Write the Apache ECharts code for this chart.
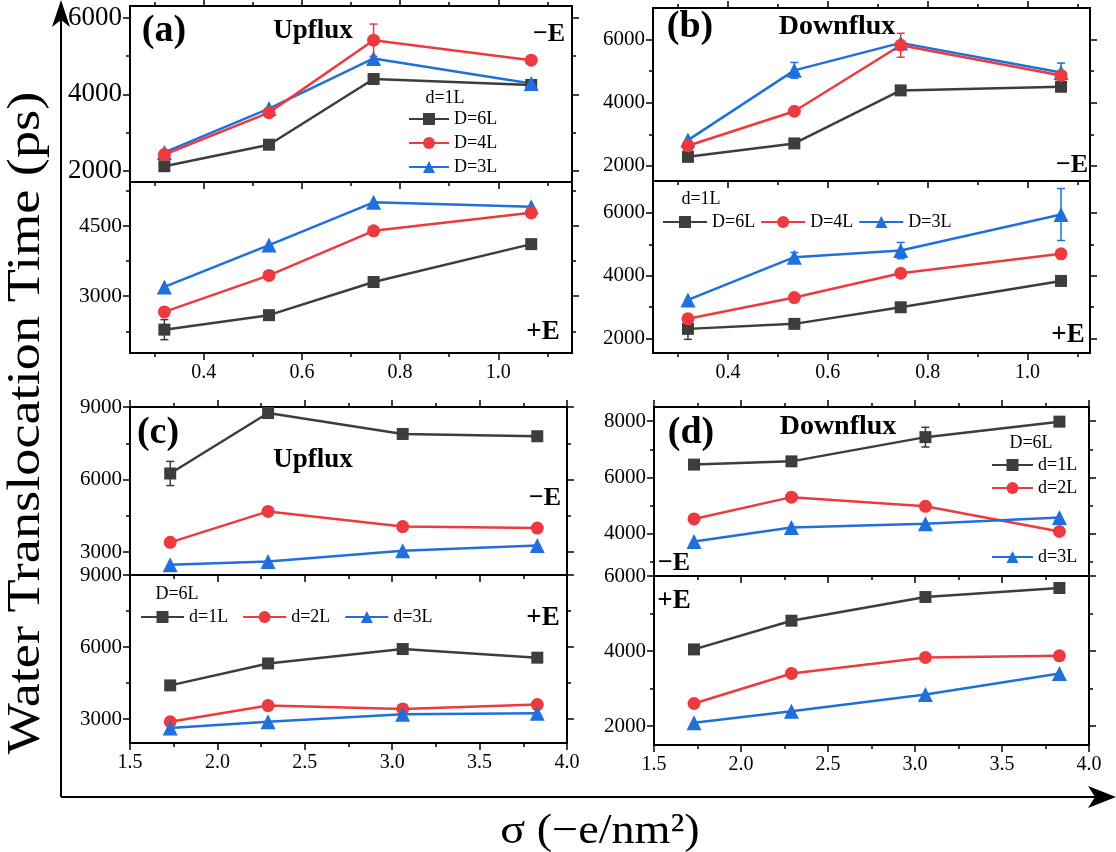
<!DOCTYPE html>
<html>
<head>
<meta charset="utf-8">
<script src="https://cdn.jsdelivr.net/npm/echarts@6/dist/echarts.min.js"></script>
<style>
  html, body { margin: 0; padding: 0; background: #ffffff; }
  #chart { width: 1116px; height: 852px; }
</style>
</head>
<body>
<div id="chart"></div>
<script>
// ---------------- data ----------------
// surface charge density sigma (-e/nm^2)
const sigmaAB = [0.32, 0.533, 0.746, 1.067];
const sigmaCD = [1.73, 2.29, 3.06, 3.83];

// tick values
const xMajorAB = [0.4, 0.6, 0.8, 1.0];
const xMinorAB = [0.3, 0.5, 0.7, 0.9, 1.1];
const xMajorCD = [1.5, 2.0, 2.5, 3.0, 3.5, 4.0];
const xMinorCD = [1.75, 2.25, 2.75, 3.25, 3.75];

// (a) Upflux, d=1L, -E field
const aMinusD6L = [2130, 2690, 4400, 4245];
const aMinusD4L = [2435, 3525, 5410, 4890];
const aMinusD3L = [2490, 3630, 4935, 4285];
const aMinusD4LErr = [0, 0, 420, 0];
// (a) Upflux, d=1L, +E field
const aPlusD6L = [2285, 2595, 3305, 4115];
const aPlusD4L = [2665, 3445, 4400, 4785];
const aPlusD3L = [3200, 4095, 5010, 4915];
const aPlusD6LErr = [215, 0, 0, 0];

// (b) Downflux, d=1L, -E field
const bMinusD6L = [2285, 2710, 4390, 4505];
const bMinusD4L = [2635, 3730, 5820, 4865];
const bMinusD3L = [2815, 5025, 5895, 4955];
const bMinusD4LErr = [0, 0, 380, 0];
const bMinusD3LErr = [0, 250, 0, 300];
// (b) Downflux, d=1L, +E field
const bPlusD6L = [2300, 2460, 2990, 3830];
const bPlusD4L = [2620, 3300, 4075, 4695];
const bPlusD3L = [3225, 4590, 4800, 5950];
const bPlusD6LErr = [335, 0, 0, 0];
const bPlusD3LErr = [0, 150, 260, 830];

// (c) Upflux, D=6L, -E field
const cMinusd1L = [6250, 8750, 7885, 7790];
const cMinusd2L = [3400, 4680, 4055, 3990];
const cMinusd3L = [2475, 2610, 3055, 3275];
const cMinusd1LErr = [500, 0, 0, 0];
// (c) Upflux, D=6L, +E field
const cPlusd1L = [4400, 5315, 5915, 5555];
const cPlusd2L = [2885, 3560, 3420, 3600];
const cPlusd3L = [2620, 2885, 3195, 3240];
const cPlusd1LErr = [0, 0, 150, 0];

// (d) Downflux, D=6L, -E field
const dMinusd1L = [6455, 6570, 7430, 7980];
const dMinusd2L = [4525, 5300, 4975, 4080];
const dMinusd3L = [3725, 4225, 4355, 4580];
const dMinusd1LErr = [0, 0, 350, 0];
// (d) Downflux, D=6L, +E field
const dPlusd1L = [4045, 4810, 5440, 5680];
const dPlusd2L = [2605, 3405, 3830, 3875];
const dPlusd3L = [2090, 2400, 2845, 3405];

// ---------------- styling ----------------
const FONT = '"Liberation Serif", "Times New Roman", serif';
const BLACK = '#3d3d3d', RED = '#ec3a3f', BLUE = '#1f6fdc';
const STYLE = {
  sq:  { color: BLACK, symbol: 'rect', symbolSize: 12 },
  ci:  { color: RED,   symbol: 'circle', symbolSize: 13 },
  tr:  { color: BLUE,  symbol: 'triangle', symbolSize: 15 }
};

// ---------------- panel layout ----------------
const panels = [
  { rect: [130, 6, 442, 176], x: [0.25, 1.15, xMajorAB, xMinorAB], xLabels: false, topTicks: true,
    y: [1720, 6300, [2000, 4000, 6000], [3000, 5000]], yFont: 27, xs: sigmaAB,
    lines: [['D=6L', 'sq', aMinusD6L], ['D=3L', 'tr', aMinusD3L], ['D=4L', 'ci', aMinusD4L, aMinusD4LErr]] },
  { rect: [130, 182, 442, 171], x: [0.25, 1.15, xMajorAB, xMinorAB], xLabels: true, topTicks: false,
    y: [1785, 5445, [3000, 4500], [2250, 3750, 5250]], yFont: 21.5, xs: sigmaAB,
    lines: [['D=6L', 'sq', aPlusD6L, aPlusD6LErr], ['D=3L', 'tr', aPlusD3L], ['D=4L', 'ci', aPlusD4L]] },
  { rect: [653, 8, 437, 173], x: [0.25, 1.125, xMajorAB, xMinorAB], xLabels: false, topTicks: true,
    y: [1520, 7000, [2000, 4000, 6000], [3000, 5000]], yFont: 21, xs: sigmaAB,
    lines: [['D=6L', 'sq', bMinusD6L], ['D=3L', 'tr', bMinusD3L, bMinusD3LErr], ['D=4L', 'ci', bMinusD4L, bMinusD4LErr]] },
  { rect: [653, 181, 437, 172], x: [0.25, 1.125, xMajorAB, xMinorAB], xLabels: true, topTicks: false,
    y: [1530, 7020, [2000, 4000, 6000], [3000, 5000]], yFont: 21, xs: sigmaAB,
    lines: [['D=6L', 'sq', bPlusD6L, bPlusD6LErr], ['D=4L', 'ci', bPlusD4L], ['D=3L', 'tr', bPlusD3L, bPlusD3LErr]] },
  { rect: [130, 407, 437, 168], x: [1.5, 4.0, xMajorCD, xMinorCD], xLabels: false, topTicks: true,
    y: [2050, 9000, [3000, 6000, 9000], [4500, 7500]], yFont: 21, xs: sigmaCD,
    lines: [['d=1L', 'sq', cMinusd1L, cMinusd1LErr], ['d=2L', 'ci', cMinusd2L], ['d=3L', 'tr', cMinusd3L]] },
  { rect: [130, 575, 437, 168], x: [1.5, 4.0, xMajorCD, xMinorCD], xLabels: true, topTicks: false,
    y: [2000, 9000, [3000, 6000, 9000], [4500, 7500]], yFont: 21, xs: sigmaCD,
    lines: [['d=1L', 'sq', cPlusd1L, cPlusd1LErr], ['d=2L', 'ci', cPlusd2L], ['d=3L', 'tr', cPlusd3L]] },
  { rect: [654, 407, 435, 169], x: [1.5, 4.0, xMajorCD, xMinorCD], xLabels: false, topTicks: true,
    y: [2500, 8500, [4000, 6000, 8000], [3000, 5000, 7000]], yFont: 21, xs: sigmaCD,
    lines: [['d=1L', 'sq', dMinusd1L, dMinusd1LErr], ['d=2L', 'ci', dMinusd2L], ['d=3L', 'tr', dMinusd3L]] },
  { rect: [654, 576, 435, 169], x: [1.5, 4.0, xMajorCD, xMinorCD], xLabels: true, topTicks: false,
    y: [1500, 6000, [2000, 4000, 6000], [3000, 5000]], yFont: 21, xs: sigmaCD,
    lines: [['d=1L', 'sq', dPlusd1L], ['d=2L', 'ci', dPlusd2L], ['d=3L', 'tr', dPlusd3L]] }
];

const grids = [], xAxes = [], yAxes = [], series = [];

function tickAxis(kind, gi, min, max, position, values, len, label) {
  const ax = {
    type: 'value', gridIndex: gi, min: min, max: max, position: position,
    splitLine: { show: false },
    axisLine: { show: false, onZero: false },
    axisTick: { show: true, inside: false, length: len, customValues: values,
                lineStyle: { color: '#000', width: 1.5 } },
    axisLabel: { show: false },
    z: 5
  };
  if (label) {
    ax.axisLabel = Object.assign({ show: true, customValues: values, color: '#000',
                                   fontFamily: FONT }, label);
  }
  (kind === 'x' ? xAxes : yAxes).push(ax);
  return (kind === 'x' ? xAxes : yAxes).length - 1;
}

panels.forEach((p, gi) => {
  const [l, t, w, h] = p.rect;
  grids.push({ left: l, top: t, width: w, height: h, show: true,
               borderColor: '#000', borderWidth: 2, backgroundColor: 'transparent' });
  const [xmin, xmax, xmaj, xmin2] = p.x;
  const [ymin, ymax, ymaj, ymin2] = p.y;
  const xi = tickAxis('x', gi, xmin, xmax, 'bottom', xmaj, 7,
    p.xLabels ? { fontSize: 20, margin: 10, formatter: v => Number(v).toFixed(1) } : null);
  tickAxis('x', gi, xmin, xmax, 'bottom', xmin2, 4, null);
  if (p.topTicks) {
    tickAxis('x', gi, xmin, xmax, 'top', xmaj, 7, null);
    tickAxis('x', gi, xmin, xmax, 'top', xmin2, 4, null);
  }
  const yi = tickAxis('y', gi, ymin, ymax, 'left', ymaj, 7,
    { fontSize: p.yFont, margin: 8, formatter: v => String(Math.round(v)) });
  tickAxis('y', gi, ymin, ymax, 'left', ymin2, 4, null);
  tickAxis('y', gi, ymin, ymax, 'right', ymaj, 7, null);
  tickAxis('y', gi, ymin, ymax, 'right', ymin2, 4, null);

  p.lines.forEach(([name, sk, vals, errs]) => {
    const st = STYLE[sk];
    if (errs) {
      const ebData = [];
      vals.forEach((v, i) => { if (errs[i] > 0) ebData.push([p.xs[i], v - errs[i], v + errs[i]]); });
      series.push({
        type: 'custom', name: name + ' error', xAxisIndex: xi, yAxisIndex: yi,
        encode: { x: 0, y: [1, 2] }, data: ebData, z: 2, silent: true,
        renderItem: (params, api) => {
          const x = api.value(0);
          const a = api.coord([x, api.value(1)]);
          const b = api.coord([x, api.value(2)]);
          const cw = 4;
          const ls = { stroke: st.color, lineWidth: 1.5 };
          return { type: 'group', children: [
            { type: 'line', shape: { x1: a[0], y1: a[1], x2: b[0], y2: b[1] }, style: ls },
            { type: 'line', shape: { x1: a[0] - cw, y1: a[1], x2: a[0] + cw, y2: a[1] }, style: ls },
            { type: 'line', shape: { x1: b[0] - cw, y1: b[1], x2: b[0] + cw, y2: b[1] }, style: ls }
          ] };
        }
      });
    }
    series.push({
      type: 'line', name: name, xAxisIndex: xi, yAxisIndex: yi,
      data: p.xs.map((x, i) => [x, vals[i]]),
      symbol: st.symbol, symbolSize: st.symbolSize, showSymbol: true,
      itemStyle: { color: st.color, opacity: 1 },
      lineStyle: { color: st.color, width: 2.5 },
      z: 3
    });
  });
});

// ---------------- legends ----------------
const legendText = { fontFamily: FONT, fontSize: 18, color: '#000' };
const legends = [
  { data: ['D=6L', 'D=4L', 'D=3L'], orient: 'vertical', left: 408, top: 110,
    itemWidth: 40, itemHeight: 15, itemGap: 6, textStyle: legendText },
  { data: ['D=6L', 'D=4L', 'D=3L'], orient: 'horizontal', left: 662, top: 213,
    itemWidth: 44, itemHeight: 15, itemGap: 5, textStyle: legendText },
  { data: ['d=1L', 'd=2L', 'd=3L'], orient: 'horizontal', left: 140, top: 608,
    itemWidth: 43, itemHeight: 15, itemGap: 14, textStyle: legendText },
  { data: ['d=1L', 'd=2L'], orient: 'vertical', left: 991, top: 456,
    itemWidth: 41, itemHeight: 15, itemGap: 5, textStyle: legendText },
  { data: ['d=3L'], orient: 'vertical', left: 991, top: 548,
    itemWidth: 41, itemHeight: 15, itemGap: 5, textStyle: legendText }
].map(l => Object.assign({ padding: 0, selectedMode: false, inactiveColor: '#000' }, l));

// ---------------- annotations ----------------
function label(text, x, y, size, bold, align) {
  return { type: 'text', x: x, y: y, z: 20, silent: true,
    style: { text: text, font: (bold ? 'bold ' : '') + size + 'px ' + FONT, fill: '#000',
             textAlign: align || 'center', textVerticalAlign: 'middle' } };
}
const graphics = [
  label('(a)', 164, 31, 38, true),
  label('Upflux', 313, 31, 27, true),
  label('\u2212E', 549, 34, 26, true),
  label('+E', 543, 332, 27, true),
  label('d=1L', 445, 98, 18, false),
  label('(b)', 690, 27, 38, true),
  label('Downflux', 837, 27, 28, true),
  label('\u2212E', 1072, 165, 26, true),
  label('+E', 1068, 335, 27, true),
  label('d=1L', 701, 199, 18, false),
  label('(c)', 158, 433, 38, true),
  label('Upflux', 313, 460, 27, true),
  label('\u2212E', 545, 498, 26, true),
  label('+E', 543, 618, 27, true),
  label('D=6L', 177, 594, 18, false),
  label('(d)', 691, 433, 38, true),
  label('Downflux', 838, 427, 28, true),
  label('\u2212E', 674, 563, 26, true),
  label('+E', 674, 601, 27, true),
  label('D=6L', 1031, 443, 18, false),
  // shared axis titles
  { type: 'text', x: 27, y: 423, rotation: Math.PI / 2, scaleX: 1.18, z: 20, silent: true,
    style: { text: 'Water Translocation Time (ps)', font: '46px ' + FONT, fill: '#000',
             textAlign: 'center', textVerticalAlign: 'middle' } },
  { type: 'text', x: 600, y: 832, scaleX: 1.1, z: 20, silent: true,
    style: { text: '\u03c3 (\u2212e/nm\u00b2)', font: '42px ' + FONT, fill: '#000',
             textAlign: 'center', textVerticalAlign: 'middle' } },
  // frame arrows
  { type: 'line', z: 20, silent: true, shape: { x1: 61, y1: 797, x2: 61, y2: 18 },
    style: { stroke: '#000', lineWidth: 2 } },
  { type: 'polygon', z: 20, silent: true,
    shape: { points: [[61, 0], [70, 27], [61, 20], [52, 27]] }, style: { fill: '#000' } },
  { type: 'line', z: 20, silent: true, shape: { x1: 61, y1: 797, x2: 1098, y2: 797 },
    style: { stroke: '#000', lineWidth: 2 } },
  { type: 'polygon', z: 20, silent: true,
    shape: { points: [[1116, 797], [1088, 786], [1095, 797], [1088, 808]] }, style: { fill: '#000' } }
];

const chart = echarts.init(document.getElementById('chart'), null, { renderer: 'canvas' });
chart.setOption({
  backgroundColor: '#ffffff',
  animation: false,
  grid: grids,
  xAxis: xAxes,
  yAxis: yAxes,
  legend: legends,
  series: series,
  graphic: graphics
});
</script>
</body>
</html>
